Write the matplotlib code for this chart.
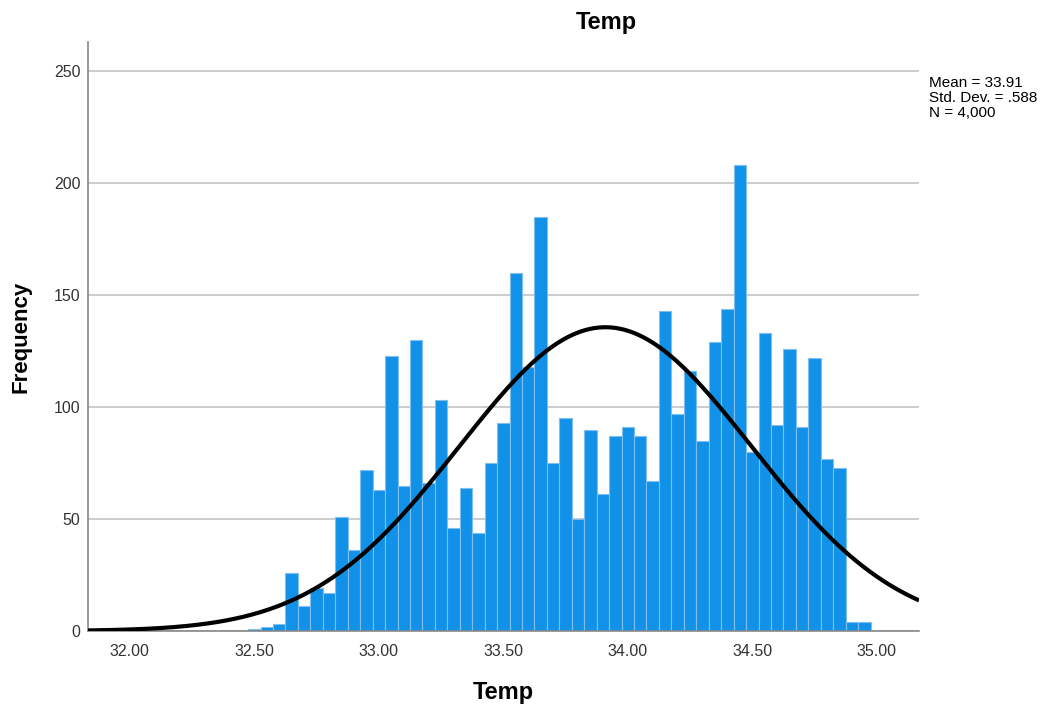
import numpy as np
import matplotlib.pyplot as plt

plt.rcParams['font.family'] = ['Liberation Sans', 'DejaVu Sans']

# histogram bins (centres) and counts
bin_width = 0.05
bin_centers = [32.50 + i * bin_width for i in range(50)]
counts = [1, 2, 3, 26, 11, 19, 17, 51, 36, 72,
          63, 123, 65, 130, 66, 103, 46, 64, 44, 75,
          93, 160, 118, 185, 75, 95, 50, 90, 61, 87,
          91, 87, 67, 143, 97, 116, 85, 129, 144, 208,
          80, 133, 92, 126, 91, 122, 77, 73, 4, 4]

mean = 33.91
std = 0.588
n = 4000

x_ticks = [32.0, 32.5, 33.0, 33.5, 34.0, 34.5, 35.0]
y_ticks = [0, 50, 100, 150, 200, 250]

fig = plt.figure(figsize=(10.46, 7.06), dpi=100)
ax = fig.add_axes([0.0837, 0.1062, 0.795, 0.834])

ax.bar(bin_centers, counts, width=bin_width, color='#1192e8',
       edgecolor='#7fbff0', linewidth=0.8, zorder=2)

xs = np.linspace(31.83, 35.17, 400)
pdf = np.exp(-0.5 * ((xs - mean) / std) ** 2) / (std * np.sqrt(2 * np.pi))
ax.plot(xs, n * bin_width * pdf, color='black', linewidth=3, zorder=3,
        solid_capstyle='butt')

ax.set_xlim(31.83, 35.17)
ax.set_ylim(0, 263)
ax.set_xticks(x_ticks)
ax.set_xticklabels([f'{t:.2f}' for t in x_ticks])
ax.set_yticks(y_ticks)
ax.tick_params(axis='both', length=0, labelsize=11.5, colors='#333333')
ax.tick_params(axis='x', pad=9)
ax.tick_params(axis='y', pad=5)
ax.yaxis.grid(True, color='#c4c4c4', linewidth=1.2, zorder=0)
ax.set_axisbelow(True)

for side in ['top', 'right']:
    ax.spines[side].set_visible(False)
for side in ['left', 'bottom']:
    ax.spines[side].set_color('#888888')
    ax.spines[side].set_linewidth(1.2)

ax.set_xlabel('Temp', fontsize=17, fontweight='bold', labelpad=16)
ax.set_ylabel('Frequency', fontsize=16, fontweight='bold', labelpad=16)
fig.text(606 / 1046, 1 - 22 / 706, 'Temp', fontsize=17, fontweight='bold',
         ha='center', va='center')
fig.text(929 / 1046, 1 - 76 / 706,
         f'Mean = {mean:.2f}\nStd. Dev. = .588\nN = {n:,}',
         fontsize=11, ha='left', va='top', linespacing=1.1)

fig.savefig('out.png', dpi=100)
